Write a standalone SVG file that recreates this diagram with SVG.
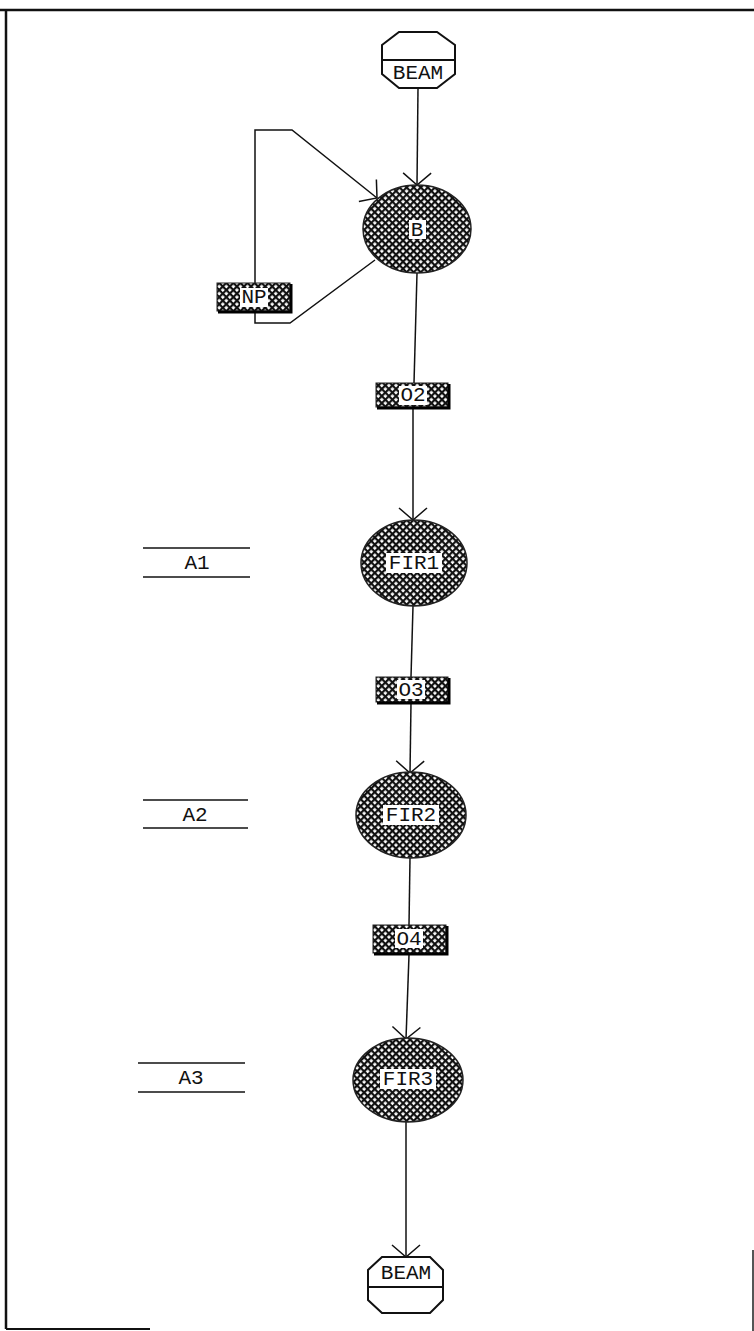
<svg xmlns="http://www.w3.org/2000/svg" width="754" height="1331" viewBox="0 0 754 1331">
<defs>
<pattern id="hatch" width="5" height="5" patternUnits="userSpaceOnUse" patternTransform="rotate(45)">
<rect width="5" height="5" fill="#111"/>
<rect x="1.2" y="1.2" width="2.8" height="2.8" fill="#fff"/>
</pattern>
<marker id="arr" markerUnits="userSpaceOnUse" markerWidth="30" markerHeight="30" refX="0" refY="0" viewBox="-16 -15 20 30" orient="auto" overflow="visible">
<path d="M-12,-14 L0,0 L-12,14" fill="none" stroke="#111" stroke-width="1.5"/>
</marker>
<style>
.ln{fill:none;stroke:#111;stroke-width:1.5}
.ell{fill:url(#hatch);stroke:#222;stroke-width:1.5}
.box{fill:url(#hatch);stroke:#222;stroke-width:1}
.sh{fill:none;stroke:#000;stroke-width:3}
.oct{fill:#fff;stroke:#111;stroke-width:2}
.lbg{fill:#fff}
.t{font-family:"Liberation Mono","DejaVu Sans Mono",monospace;font-size:21px;fill:#111;text-anchor:middle;dominant-baseline:central}
</style>
</defs>
<rect width="754" height="1331" fill="#fff"/>
<g id="frame">
<line x1="0" y1="10" x2="754" y2="10" stroke="#111" stroke-width="2.5"/>
<line x1="6" y1="10" x2="6" y2="1329" stroke="#111" stroke-width="2.5"/>
<line x1="6" y1="1329" x2="150" y2="1329" stroke="#111" stroke-width="2"/>
<line x1="753" y1="1250" x2="753" y2="1331" stroke="#555" stroke-width="2"/>
</g>
<g id="connectors">
<line class="ln" x1="418" y1="88" x2="417" y2="185" marker-end="url(#arr)"/>
<line class="ln" x1="417" y1="273" x2="414" y2="383"/>
<line class="ln" x1="413" y1="408" x2="413" y2="520" marker-end="url(#arr)"/>
<line class="ln" x1="413" y1="606" x2="411" y2="677"/>
<line class="ln" x1="411" y1="703" x2="410" y2="773" marker-end="url(#arr)"/>
<line class="ln" x1="410" y1="858" x2="409" y2="925"/>
<line class="ln" x1="409" y1="955" x2="406" y2="1039" marker-end="url(#arr)"/>
<line class="ln" x1="406" y1="1122" x2="406" y2="1257" marker-end="url(#arr)"/>
<polyline class="ln" points="375,260 290,323 255,323 255,312"/>
<polyline class="ln" points="255,283 255,130 292,130 377,198" marker-end="url(#arr)"/>
</g>
<g id="beam-top">
<polygon class="oct" points="382,45 399,32 437,32 455,45 455,74 437,88 399,88 382,74"/>
<line x1="382" y1="60" x2="455" y2="60" stroke="#111" stroke-width="2"/>
<text class="t" x="418" y="73">BEAM</text>
</g>
<g id="B">
<ellipse class="ell" cx="417" cy="229" rx="54" ry="44"/>
<rect class="lbg" x="409" y="220" width="17" height="19"/>
<text class="t" x="417" y="230">B</text>
</g>
<g id="NP">
<rect class="box" x="217" y="283" width="73" height="28"/>
<polyline class="sh" points="291,284 291,312 218,312"/>
<rect class="lbg" x="240" y="288" width="28" height="19"/>
<text class="t" x="254" y="297">NP</text>
</g>
<g id="O2">
<rect class="box" x="376" y="383" width="72" height="24"/>
<polyline class="sh" points="449,384 449,408 377,408"/>
<rect class="lbg" x="399" y="386" width="28" height="19"/>
<text class="t" x="413" y="395">O2</text>
</g>
<g id="A1">
<line x1="143" y1="548" x2="250" y2="548" stroke="#111" stroke-width="1.5"/>
<line x1="143" y1="577" x2="250" y2="577" stroke="#111" stroke-width="1.5"/>
<text class="t" x="197" y="563">A1</text>
</g>
<g id="FIR1">
<ellipse class="ell" cx="414" cy="563" rx="53" ry="43"/>
<rect class="lbg" x="386" y="553" width="56" height="20"/>
<text class="t" x="414" y="563">FIR1</text>
</g>
<g id="O3">
<rect class="box" x="376" y="677" width="72" height="25"/>
<polyline class="sh" points="449,678 449,703 377,703"/>
<rect class="lbg" x="397" y="680" width="28" height="19"/>
<text class="t" x="411" y="690">O3</text>
</g>
<g id="A2">
<line x1="143" y1="800" x2="248" y2="800" stroke="#111" stroke-width="1.5"/>
<line x1="143" y1="828" x2="248" y2="828" stroke="#111" stroke-width="1.5"/>
<text class="t" x="195" y="815">A2</text>
</g>
<g id="FIR2">
<ellipse class="ell" cx="411" cy="815" rx="55" ry="43"/>
<rect class="lbg" x="383" y="805" width="56" height="20"/>
<text class="t" x="411" y="815">FIR2</text>
</g>
<g id="O4">
<rect class="box" x="373" y="925" width="73" height="28"/>
<polyline class="sh" points="447,926 447,954 374,954"/>
<rect class="lbg" x="395" y="929" width="28" height="19"/>
<text class="t" x="409" y="939">O4</text>
</g>
<g id="A3">
<line x1="138" y1="1063" x2="245" y2="1063" stroke="#111" stroke-width="1.5"/>
<line x1="138" y1="1092" x2="245" y2="1092" stroke="#111" stroke-width="1.5"/>
<text class="t" x="191" y="1078">A3</text>
</g>
<g id="FIR3">
<ellipse class="ell" cx="408" cy="1080" rx="55" ry="42"/>
<rect class="lbg" x="380" y="1069" width="56" height="20"/>
<text class="t" x="408" y="1079">FIR3</text>
</g>
<g id="beam-bottom">
<polygon class="oct" points="382,1257 430,1257 443,1270 443,1300 430,1313 382,1313 368,1300 368,1270"/>
<line x1="368" y1="1287" x2="443" y2="1287" stroke="#111" stroke-width="2"/>
<text class="t" x="406" y="1273">BEAM</text>
</g>
</svg>
